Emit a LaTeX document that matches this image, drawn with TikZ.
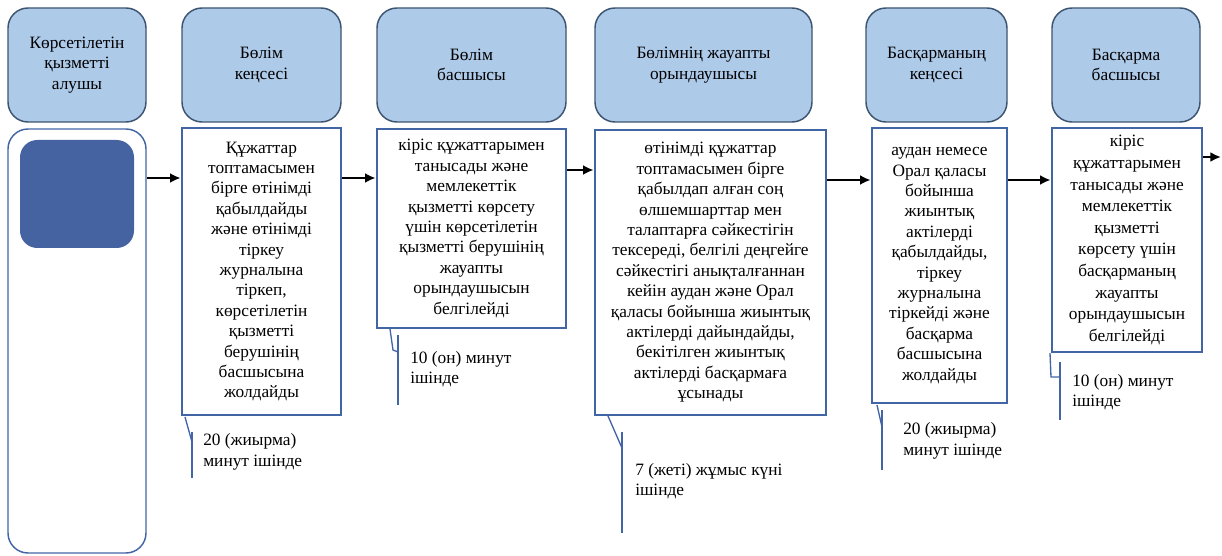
\documentclass[tikz,border=0pt]{standalone}
\usepackage{fontspec}
\setmainfont{Liberation Serif}
\usepackage{xcolor}
\usetikzlibrary{arrows.meta,positioning,calc}

\definecolor{headfill}{RGB}{174,202,233}
\definecolor{headline}{RGB}{60,84,112}
\definecolor{boxline}{RGB}{66,101,166}
\definecolor{darkfill}{RGB}{68,99,160}

\begin{document}
\begin{tikzpicture}[
    x=0.75pt, y=-0.75pt,
    font=\fontsize{13}{15.3}\selectfont,
    boxsize/.style 2 args={minimum width=#1*0.75pt, minimum height=#2*0.75pt},
    header/.style={rectangle, rounded corners=15pt, draw=headline, line width=1.1pt, fill=headfill, align=center, inner sep=2pt},
    task/.style={rectangle, draw=boxline, line width=2pt, fill=white, align=center, inner sep=2pt},
    flow/.style={-{Latex[length=8pt,width=7.5pt]}, line width=2pt, black},
    note/.style={draw=boxline, line width=1pt},
    notetext/.style={anchor=west, align=left, inner sep=0pt}
]
\useasboundingbox (0,0) rectangle (1222,556);

% Headers
\node[header, boxsize={138}{114}] (h1) at (77,65) {Көрсетілетін\\қызметті\\алушы};
\node[header, boxsize={159}{114}] (h2) at (261.5,65) {Бөлім\\кеңсесі};
\node[header, boxsize={189}{114}] (h3) at (471.5,65) {Бөлім\\басшысы};
\node[header, boxsize={217}{114}] (h4) at (703.5,65) {Бөлімнің жауапты\\орындаушысы};
\node[header, boxsize={141}{114}] (h5) at (936.5,65) {Басқарманың\\кеңсесі};
\node[header, boxsize={148}{114}] (h6) at (1126,65) {Басқарма\\басшысы};

% Service recipient column
\node[rectangle, rounded corners=15pt, draw=boxline, line width=1.1pt, boxsize={138}{424}] (recipient) at (77,341) {};
\node[rectangle, rounded corners=13pt, fill=darkfill, boxsize={114}{108}] (recipientmark) at (77,194) {};

% Steps
\node[task, boxsize={159}{287}] (s1) at (261.5,271.5) {Құжаттар\\топтамасымен\\бірге өтінімді\\қабылдайды\\және өтінімді\\тіркеу\\журналына\\тіркеп,\\көрсетілетін\\қызметті\\берушінің\\басшысына\\жолдайды};
\node[task, boxsize={189}{199}] (s2) at (471.5,228.5) {кіріс құжаттарымен\\танысады және\\мемлекеттік\\қызметті көрсету\\үшін көрсетілетін\\қызметті берушінің\\жауапты\\орындаушысын\\белгілейді};
\node[task, boxsize={231}{285}] (s3) at (710.5,272.5) {өтінімді құжаттар\\топтамасымен бірге\\қабылдап алған соң\\өлшемшарттар мен\\талаптарға сәйкестігін\\тексереді, белгілі деңгейге\\сәйкестігі анықталғаннан\\кейін аудан және Орал\\қаласы бойынша жиынтық\\актілерді дайындайды,\\бекітілген жиынтық\\актілерді басқармаға\\ұсынады};
\node[task, boxsize={135}{275}] (s4) at (939.5,265.5) {аудан немесе\\Орал қаласы\\бойынша\\жиынтық\\актілерді\\қабылдайды,\\тіркеу\\журналына\\тіркейді және\\басқарма\\басшысына\\жолдайды};
\node[task, boxsize={150}{224}, font=\fontsize{13}{16.2}\selectfont] (s5) at (1127,240) {кіріс\\құжаттарымен\\танысады және\\мемлекеттік\\қызметті\\көрсету үшін\\басқарманың\\жауапты\\орындаушысын\\белгілейді};

% Flow arrows
\coordinate (y1) at (0,178);
\coordinate (y2) at (0,170);
\coordinate (y3) at (0,180);
\coordinate (y4) at (0,157);
\coordinate (out) at (1221,157);
\draw[flow] (recipient.east |- y1) -- (s1.west |- y1);
\draw[flow] (s1.east |- y1) -- (s2.west |- y1);
\draw[flow] (s2.east |- y2) -- (s3.west |- y2);
\draw[flow] (s3.east |- y3) -- (s4.west |- y3);
\draw[flow] (s4.east |- y3) -- (s5.west |- y3);
\draw[flow] (s5.east |- y4) -- (out);

% Time notes
\draw[note] (185,417) -- (192,442);
\draw[note] (192,432) -- (192,478);
\node[notetext] (t1) at (203,452) {20 (жиырма)\\минут ішінде};

\draw[note] (390,329) -- (393,350) -- (398,352);
\draw[note] (398,335) -- (398,405);
\node[notetext] (t2) at (410,369) {10 (он) минут\\ішінде};

\draw[note] (608,416) -- (622,448);
\draw[note] (622,432) -- (622,533);
\node[notetext] (t3) at (635,481) {7 (жеті) жұмыс күні\\ішінде};

\draw[note] (877,405) -- (882,427);
\draw[note] (882,410) -- (882,470);
\node[notetext] (t4) at (903,441) {20 (жиырма)\\минут ішінде};

\draw[note] (1050,353) -- (1051,377) -- (1060,377);
\draw[note] (1060,362) -- (1060,420);
\node[notetext] (t5) at (1072,392) {10 (он) минут\\ішінде};

\end{tikzpicture}
\end{document}
